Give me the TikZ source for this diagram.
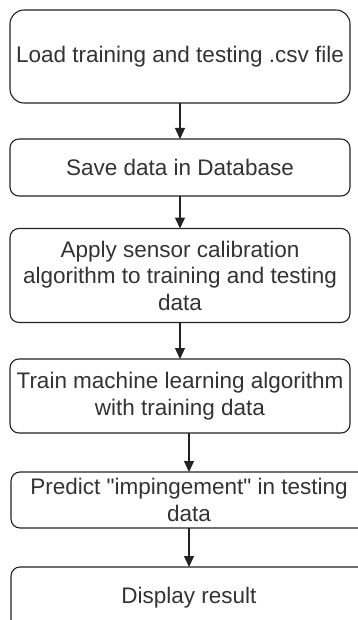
\documentclass[tikz,border=0pt]{standalone}
\usepackage{fontspec}
\newfontfamily\boxfont{Liberation Sans}
\usetikzlibrary{arrows.meta}
\definecolor{ink}{HTML}{222222}
\definecolor{txt}{HTML}{333333}
\tikzset{
  stepbox/.style={draw=ink, line width=1.1pt, rounded corners=9pt, fill=white,
    align=center, text=txt, font=\boxfont\fontsize{22.5}{26.5}\selectfont,
    inner sep=0pt, outer sep=0pt},
  flow/.style={draw=ink, line width=1.1pt, -{Triangle[width=10pt,length=11pt]}}
}
\begin{document}
\begin{tikzpicture}[x=1pt,y=-1pt]
  \useasboundingbox (0,0) rectangle (358,620);
  \clip (0,0) rectangle (358,620);
  \fill[white] (0,0) rectangle (358,620);
  \node[stepbox, rounded corners=14pt, minimum width=340pt, minimum height=93pt] (load) at (180,56.5)
    {Load training and testing .csv file};
  \node[stepbox, minimum width=340pt, minimum height=57pt] (save) at (180,167.5)
    {Save data in Database};
  \node[stepbox, minimum width=340pt, minimum height=94pt] (calib) at (180,275.5)
    {Apply sensor calibration\\algorithm to training and testing\\data};
  \node[stepbox, minimum width=340pt, minimum height=74pt] (train) at (180,396)
    {Train machine learning algorithm\\with training data};
  \node[stepbox, minimum width=356pt, minimum height=56pt] (predict) at (189,500)
    {Predict "impingement" in testing\\data};
  \node[stepbox, minimum width=356pt, minimum height=62pt] (show) at (189,598)
    {Display result};
  \draw[flow] (load.south) -- (save.north);
  \draw[flow] (save.south) -- (calib.north);
  \draw[flow] (calib.south) -- (train.north);
  \draw[flow] ([xshift=9pt]train.south) -- (predict.north);
  \draw[flow] (predict.south) -- (show.north);
\end{tikzpicture}
\end{document}
